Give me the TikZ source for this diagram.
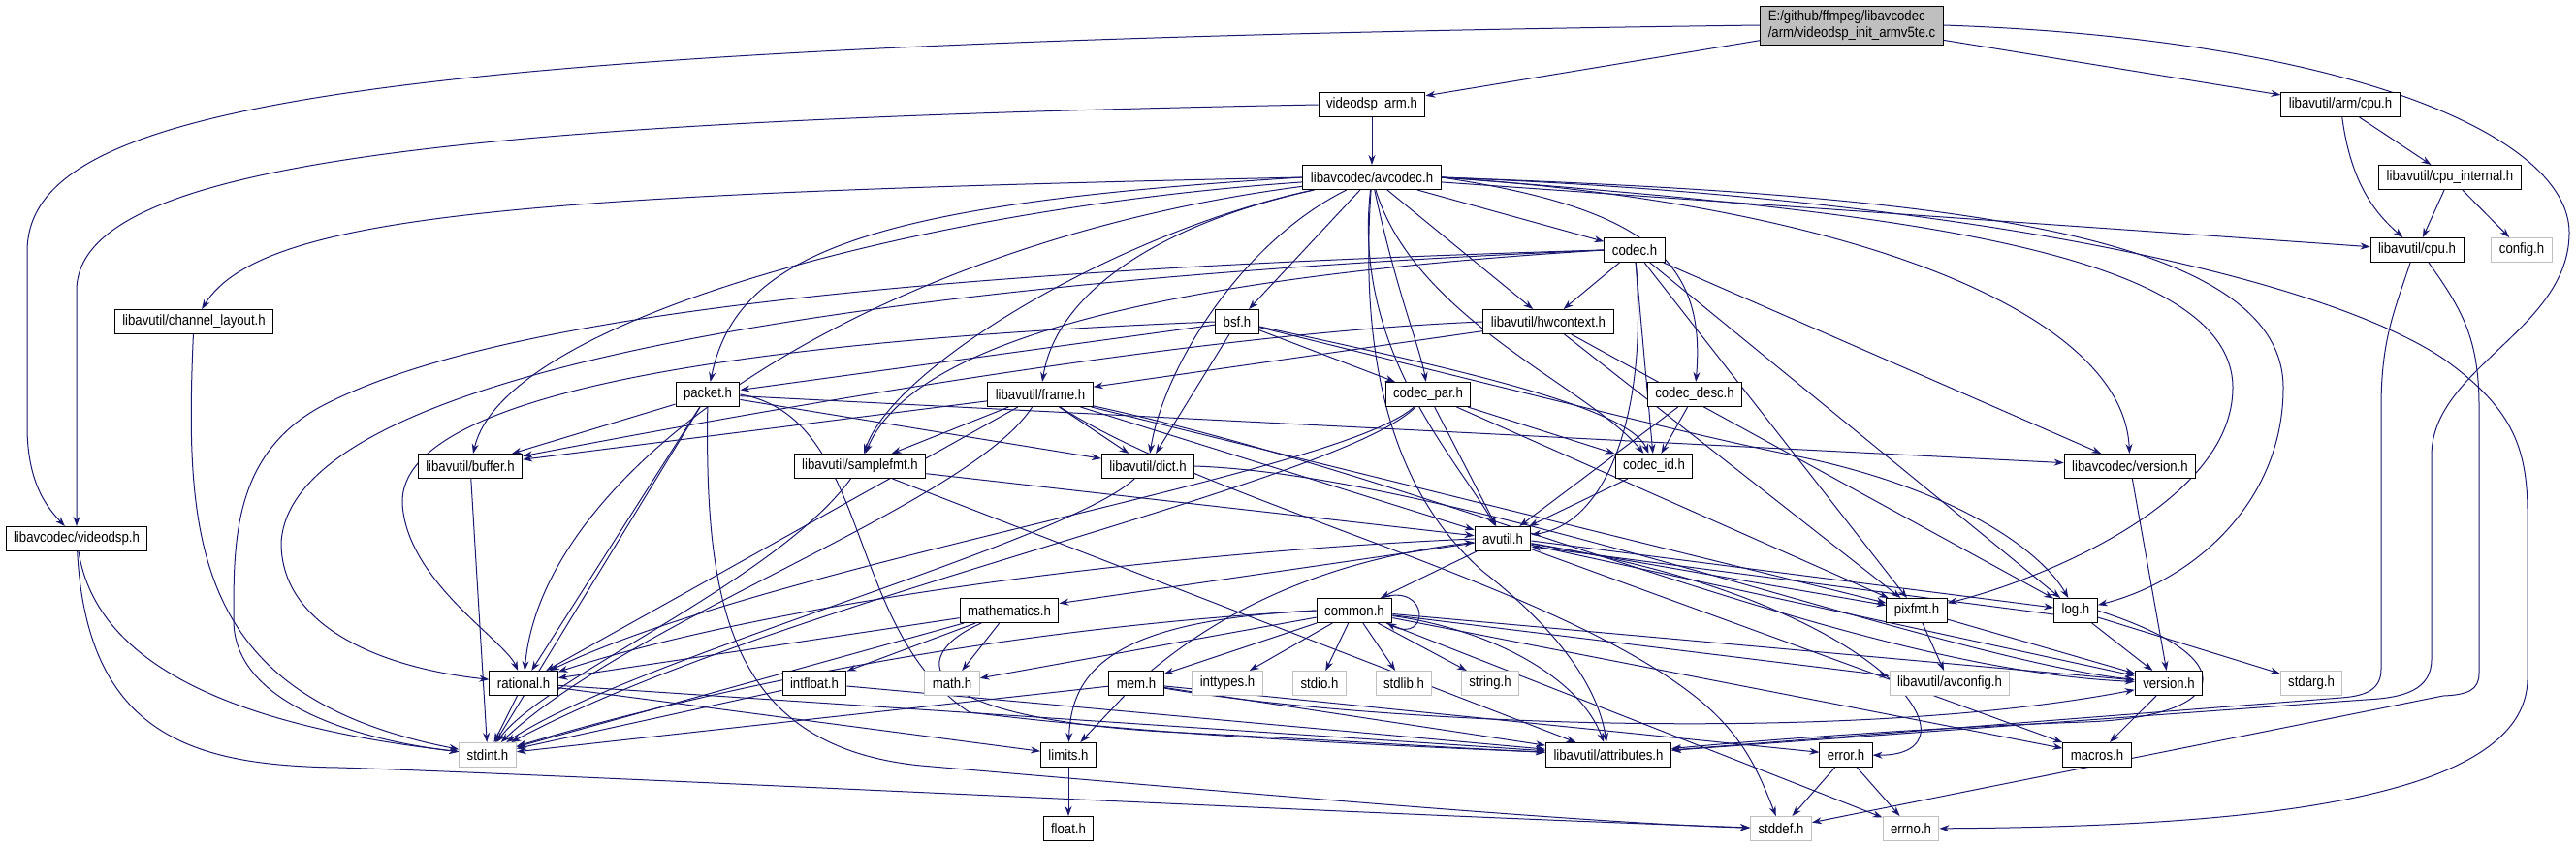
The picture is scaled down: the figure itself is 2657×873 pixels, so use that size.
\documentclass[tikz,border=0pt]{standalone}
\usepackage{fontspec}
\setmainfont{Liberation Sans}[FakeStretch=0.88]
\usetikzlibrary{arrows.meta}
\definecolor{edgeblue}{HTML}{191970}
\definecolor{sysgray}{HTML}{BFBFBF}
\pgfdeclarelayer{bg}
\pgfsetlayers{bg,main}
\begin{document}
\begin{tikzpicture}[>={Stealth[length=10pt,width=7pt]},x=1pt,y=1pt,
    hdr/.style={draw=black,fill=white,line width=1pt,inner xsep=8pt,inner ysep=0pt,minimum height=25pt,font=\fontsize{15}{17}\selectfont},
    syshdr/.style={hdr,draw=sysgray},
    srcfile/.style={hdr,fill=sysgray,align=left,minimum height=40pt},
    dep/.style={->,draw=edgeblue,line width=1pt}]
    \begin{pgfonlayer}{bg}
        \fill[white] (0,0) rectangle (2657,-873);
    \end{pgfonlayer}
    \useasboundingbox (0,0) rectangle (2657,-873);
    % files, one row per rank
    \node[srcfile] (main) at (1910,-26) {E:/github/ffmpeg/libavcodec\\/arm/videodsp\_init\_armv5te.c};
    \node[hdr] (vdarm) at (1415,-108) {videodsp\_arm.h};
    \node[hdr] (armcpu) at (2414,-108) {libavutil/arm/cpu.h};
    \node[hdr] (avcodec) at (1415,-183) {libavcodec/avcodec.h};
    \node[hdr] (cpuint) at (2527,-183) {libavutil/cpu\_internal.h};
    \node[hdr] (codec) at (1686,-258) {codec.h};
    \node[hdr] (cpu) at (2493,-258) {libavutil/cpu.h};
    \node[syshdr] (config) at (2601,-258) {config.h};
    \node[hdr] (chlayout) at (200,-332) {libavutil/channel\_layout.h};
    \node[hdr] (bsf) at (1276,-332) {bsf.h};
    \node[hdr] (hwctx) at (1597,-332) {libavutil/hwcontext.h};
    \node[hdr] (packet) at (730,-407) {packet.h};
    \node[hdr] (frame) at (1073,-407) {libavutil/frame.h};
    \node[hdr] (codecpar) at (1473,-407) {codec\_par.h};
    \node[hdr] (codecdesc) at (1748,-407) {codec\_desc.h};
    \node[hdr] (buffer) at (485,-481) {libavutil/buffer.h};
    \node[hdr] (samplefmt) at (887,-481) {libavutil/samplefmt.h};
    \node[hdr] (dict) at (1184,-481) {libavutil/dict.h};
    \node[hdr] (codecid) at (1706,-481) {codec\_id.h};
    \node[hdr] (lcversion) at (2197,-481) {libavcodec/version.h};
    \node[hdr] (videodsp) at (79,-556) {libavcodec/videodsp.h};
    \node[hdr] (avutil) at (1550,-556) {avutil.h};
    \node[hdr] (mathematics) at (1041,-630) {mathematics.h};
    \node[hdr] (common) at (1397,-630) {common.h};
    \node[hdr] (pixfmt) at (1977,-630) {pixfmt.h};
    \node[hdr] (log) at (2141,-630) {log.h};
    \node[hdr] (rational) at (540,-705) {rational.h};
    \node[hdr] (intfloat) at (840,-705) {intfloat.h};
    \node[syshdr] (math) at (982,-705) {math.h};
    \node[hdr] (mem) at (1172,-705) {mem.h};
    \node[syshdr] (inttypes) at (1266,-705) {inttypes.h};
    \node[syshdr] (stdio) at (1361,-705) {stdio.h};
    \node[syshdr] (stdlib) at (1448,-705) {stdlib.h};
    \node[syshdr] (string) at (1537,-705) {string.h};
    \node[syshdr] (avconfig) at (2011,-705) {libavutil/avconfig.h};
    \node[hdr] (version) at (2237,-705) {version.h};
    \node[syshdr] (stdarg) at (2384,-705) {stdarg.h};
    \node[syshdr] (stdint) at (503,-779) {stdint.h};
    \node[hdr] (limits) at (1102,-779) {limits.h};
    \node[hdr] (attributes) at (1659,-779) {libavutil/attributes.h};
    \node[hdr] (error) at (1904,-779) {error.h};
    \node[hdr] (macros) at (2163,-779) {macros.h};
    \node[hdr] (floath) at (1102,-855) {float.h};
    \node[syshdr] (stddef) at (1837,-855) {stddef.h};
    \node[syshdr] (errno) at (1971,-855) {errno.h};
    \begin{pgfonlayer}{bg}
    % source file
    \draw[dep] (main) -- (vdarm);
    \draw[dep] (main) -- (armcpu);
    \draw[dep] (main.west) .. controls (350,-45) and (28,-110) .. (28,-260) -- (28,-440) .. controls (28,-500) and (50,-525) .. (videodsp);
    \draw[dep] (main.east) .. controls (2420,-40) and (2650,-140) .. (2650,-240) .. controls (2650,-340) and (2508,-380) .. (2508,-470) -- (2508,-680) .. controls (2508,-712) and (2480,-720) .. (2440,-722) -- (attributes);
    % videodsp_arm.h
    \draw[dep] (vdarm) -- (avcodec);
    \draw[dep] (vdarm.west) .. controls (450,-125) and (79,-170) .. (79,-300) -- (videodsp);
    % cpu headers
    \draw[dep] (armcpu) -- (cpuint);
    \draw[dep] (armcpu) .. controls (2425,-190) and (2450,-220) .. (cpu);
    \draw[dep] (cpuint) -- (cpu);
    \draw[dep] (cpuint) -- (config);
    \draw[dep] ([xshift=-7pt]cpu.south) .. controls (2470,-320) and (2456,-350) .. (2456,-420) -- (2456,-690) .. controls (2456,-712) and (2440,-718) .. (2415,-720) -- (attributes);
    \draw[dep] ([xshift=12pt]cpu.south) .. controls (2540,-320) and (2557,-350) .. (2557,-420) -- (2557,-695) .. controls (2557,-712) and (2545,-717) .. (2520,-718) -- (stddef);
    % videodsp.h
    \draw[dep] (videodsp) .. controls (100,-690) and (250,-750) .. (stdint);
    \draw[dep] (videodsp) .. controls (90,-760) and (200,-790) .. (350,-792) .. controls (600,-800) and (1400,-840) .. (stddef);
    % avcodec.h
    \draw[dep] (avcodec.west) .. controls (550,-200) and (270,-220) .. (chlayout);
    \draw[dep] (avcodec.west) .. controls (900,-210) and (760,-260) .. (packet);
    \draw[dep] (avcodec) .. controls (950,-215) and (520,-330) .. (buffer);
    \draw[dep] (avcodec) .. controls (1200,-230) and (1090,-300) .. (frame);
    \draw[dep] (avcodec) .. controls (1150,-240) and (920,-380) .. (samplefmt);
    \draw[dep] (avcodec) .. controls (900,-250) and (560,-480) .. (rational);
    \draw[dep] (avcodec) .. controls (1280,-250) and (1200,-380) .. (dict);
    \draw[dep] (avcodec) .. controls (1395,-360) and (1500,-470) .. (avutil);
    \draw[dep] (avcodec) .. controls (1400,-400) and (1450,-520) .. (1530,-590) .. controls (1620,-660) and (1650,-720) .. (attributes);
    \draw[dep] (avcodec) -- (cpu);
    \draw[dep] (avcodec) -- (hwctx);
    \draw[dep] (avcodec) -- (bsf);
    \draw[dep] (avcodec) -- (codec);
    \draw[dep] (avcodec) .. controls (1440,-300) and (1465,-360) .. (codecpar);
    \draw[dep] (avcodec) .. controls (1460,-330) and (1640,-400) .. (codecid);
    \draw[dep] (avcodec.east) .. controls (1700,-215) and (1760,-270) .. (codecdesc);
    \draw[dep] (avcodec.east) .. controls (1900,-210) and (2190,-320) .. (lcversion);
    \draw[dep] (avcodec.east) .. controls (1950,-200) and (2355,-230) .. (2355,-400) .. controls (2355,-520) and (2260,-600) .. (log);
    \draw[dep] (avcodec.east) .. controls (1900,-215) and (2303,-250) .. (2303,-400) .. controls (2303,-520) and (2100,-600) .. (pixfmt);
    \draw[dep] (avcodec.east) .. controls (2050,-205) and (2400,-290) .. (2520,-370) .. controls (2590,-420) and (2607,-460) .. (2607,-530) -- (2607,-700) .. controls (2607,-830) and (2300,-853) .. (errno);
    % codec.h
    \draw[dep] (codec.west) .. controls (900,-280) and (500,-330) .. (330,-420) .. controls (240,-470) and (241,-560) .. (241,-640) .. controls (241,-730) and (380,-765) .. (stdint);
    \draw[dep] (codec.west) .. controls (900,-290) and (300,-380) .. (290,-560) .. controls (290,-650) and (400,-690) .. (rational);
    \draw[dep] (codec.west) .. controls (1300,-280) and (950,-330) .. (samplefmt);
    \draw[dep] (codec) .. controls (1700,-420) and (1660,-540) .. (avutil);
    \draw[dep] (codec) -- (hwctx);
    \draw[dep] (codec) -- (log);
    \draw[dep] (codec) -- (pixfmt);
    \draw[dep] (codec) -- (codecid);
    \draw[dep] (codec) -- (lcversion);
    % bsf.h
    \draw[dep] (bsf) -- (packet);
    \draw[dep] (bsf) -- (dict);
    \draw[dep] (bsf) -- (codecpar);
    \draw[dep] (bsf) .. controls (1500,-380) and (1680,-420) .. (codecid);
    \draw[dep] (bsf) .. controls (1550,-400) and (1750,-450) .. (1850,-470) .. controls (2000,-500) and (2100,-560) .. (log);
    \draw[dep] (bsf.west) .. controls (800,-350) and (410,-400) .. (415,-520) .. controls (420,-600) and (520,-660) .. (rational);
    % hwcontext.h
    \draw[dep] (hwctx.west) .. controls (1200,-345) and (700,-440) .. (buffer);
    \draw[dep] (hwctx) -- (frame);
    \draw[dep] (hwctx) -- (log);
    \draw[dep] (hwctx) -- (pixfmt);
    % codec_par.h, codec_desc.h, codec_id.h
    \draw[dep] (codecpar) .. controls (1380,-500) and (800,-620) .. (stdint);
    \draw[dep] (codecpar) .. controls (1380,-490) and (800,-580) .. (rational);
    \draw[dep] (codecpar) -- (avutil);
    \draw[dep] (codecpar) -- (pixfmt);
    \draw[dep] (codecpar) -- (codecid);
    \draw[dep] (codecdesc) -- (avutil);
    \draw[dep] (codecdesc) -- (codecid);
    \draw[dep] (codecid) -- (avutil);
    % packet.h
    \draw[dep] (packet) .. controls (727,-620) and (750,-770) .. (950,-790) .. controls (1300,-820) and (1650,-850) .. (stddef);
    \draw[dep] (packet) -- (stdint);
    \draw[dep] (packet.east) .. controls (900,-430) and (870,-650) .. (1000,-735) .. controls (1200,-760) and (1450,-770) .. (attributes);
    \draw[dep] (packet) -- (buffer);
    \draw[dep] (packet) -- (dict);
    \draw[dep] (packet) -- (rational);
    \draw[dep] (packet) -- (lcversion);
    % frame.h
    \draw[dep] (frame) .. controls (1250,-520) and (1600,-600) .. (1750,-720) .. controls (1800,-760) and (1815,-800) .. (stddef);
    \draw[dep] (frame) .. controls (1000,-520) and (650,-640) .. (stdint);
    \draw[dep] (frame) -- (avutil);
    \draw[dep] (frame) -- (buffer);
    \draw[dep] (frame) -- (dict);
    \draw[dep] (frame) -- (rational);
    \draw[dep] (frame) -- (samplefmt);
    \draw[dep] (frame) -- (pixfmt);
    \draw[dep] (frame) .. controls (1500,-500) and (1900,-690) .. (version);
    % samplefmt.h, dict.h, buffer.h, channel_layout.h
    \draw[dep] (samplefmt) .. controls (800,-600) and (560,-700) .. (stdint);
    \draw[dep] (samplefmt) -- (avutil);
    \draw[dep] (samplefmt) -- (attributes);
    \draw[dep] (dict) .. controls (1100,-560) and (650,-680) .. (stdint);
    \draw[dep] (dict.east) .. controls (1500,-490) and (2000,-680) .. (version);
    \draw[dep] (buffer) -- (stdint);
    \draw[dep] (chlayout) .. controls (190,-560) and (200,-720) .. (stdint);
    % avutil.h
    \draw[dep] (avutil) -- (common);
    \draw[dep] (avutil) .. controls (1950,-620) and (2050,-780) .. (error);
    \draw[dep] (avutil.west) .. controls (1200,-570) and (800,-620) .. (rational);
    \draw[dep] (avutil) -- (version);
    \draw[dep] (avutil) -- (macros);
    \draw[dep] (avutil) -- (mathematics);
    \draw[dep] ([yshift=-2pt]avutil.east) -- ([yshift=3pt]log.west);
    \draw[dep] (avutil) -- (pixfmt);
    % log.h, pixfmt.h, version headers
    \draw[dep] ([yshift=-4pt]log.west) -- ([yshift=-8pt]avutil.east);
    \draw[dep] (log) -- (stdarg);
    \draw[dep] (log.east) .. controls (2320,-680) and (2300,-740) .. (2150,-745) .. controls (2000,-750) and (1800,-765) .. (attributes);
    \draw[dep] (log) -- (version);
    \draw[dep] (pixfmt) -- (avconfig);
    \draw[dep] (pixfmt) -- (version);
    \draw[dep] (lcversion) -- (version);
    \draw[dep] (version) -- (macros);
    % common.h
    \draw[dep] ([xshift=-12pt]common.north east) .. controls (1475,-600) and (1475,-665) .. ([xshift=-6pt]common.south east);
    \draw[dep] (common) -- (math);
    \draw[dep] (common) -- (mem);
    \draw[dep] (common) -- (inttypes);
    \draw[dep] (common) -- (stdio);
    \draw[dep] (common) -- (stdlib);
    \draw[dep] (common) -- (string);
    \draw[dep] (common.west) .. controls (1150,-640) and (1105,-690) .. (limits);
    \draw[dep] (common.west) .. controls (1000,-650) and (700,-720) .. (stdint);
    \draw[dep] (common) .. controls (1540,-650) and (1630,-700) .. (attributes);
    \draw[dep] (common) -- (macros);
    \draw[dep] (common) -- (version);
    \draw[dep] (common) -- (avconfig);
    \draw[dep] (common) -- (errno);
    % mem.h
    \draw[dep] (mem) -- (limits);
    \draw[dep] (mem) -- (stdint);
    \draw[dep] (mem) -- (attributes);
    \draw[dep] (mem) -- (error);
    \draw[dep] (mem) .. controls (1250,-640) and (1350,-580) .. (avutil);
    \draw[dep] (mem) .. controls (1400,-745) and (1900,-770) .. (version);
    % mathematics.h
    \draw[dep] (mathematics) -- (stdint);
    \draw[dep] (mathematics) -- (math);
    \draw[dep] (mathematics) .. controls (930,-680) and (950,-740) .. (1200,-755) .. controls (1400,-765) and (1500,-772) .. (attributes);
    \draw[dep] (mathematics) -- (rational);
    \draw[dep] (mathematics) -- (intfloat);
    % rational.h, intfloat.h, error.h, limits.h
    \draw[dep] (rational) -- (stdint);
    \draw[dep] (rational) -- (limits);
    \draw[dep] (rational) -- (attributes);
    \draw[dep] (intfloat) -- (stdint);
    \draw[dep] (intfloat) -- (attributes);
    \draw[dep] (error) -- (stddef);
    \draw[dep] (error) -- (errno);
    \draw[dep] (limits) -- (floath);
    \end{pgfonlayer}
\end{tikzpicture}
\end{document}
